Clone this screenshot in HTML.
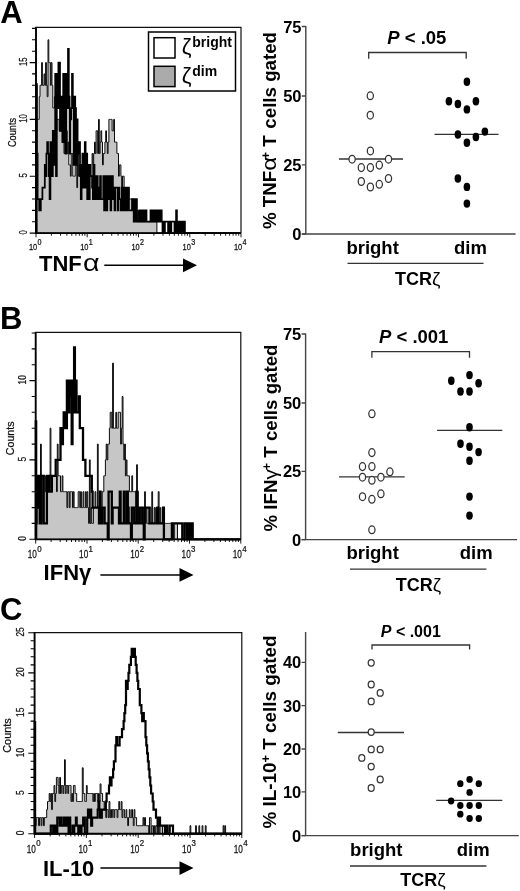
<!DOCTYPE html>
<html lang="en"><head><meta charset="utf-8"><title>Figure</title>
<style>html,body{margin:0;padding:0;background:#fff;}body{width:520px;height:891px;overflow:hidden;font-family:"Liberation Sans", sans-serif;}svg{display:block;position:absolute;left:0;top:0;will-change:transform;}text{font-family:"Liberation Sans", sans-serif;}.b{font-weight:bold;fill:#000;}.tk{font-size:10px;fill:#111;stroke:#111;stroke-width:0.25px;}</style></head><body>
<svg width="520" height="891" viewBox="0 0 520 891">
<rect x="0" y="0" width="520" height="891" fill="#fff"/>
<path d="M36.0 233.1V119.4H36.8H37.6H38.4H39.2V96.7H40.0V85.3H40.8H41.6V62.6H42.4V85.3H43.2H44.0V73.9H44.8V85.3H45.6V62.6H46.4V85.3H47.2V96.7H48.0V39.8H48.8V62.6H49.6H50.4V85.3H51.2V62.6H52.0V85.3H52.8V108.0H53.6H54.4V96.7H55.2H56.0V130.8H56.8V119.4H57.6H58.4H59.2V130.8H60.0H60.8H61.6H62.4V142.1H63.2H64.0V153.5H64.8V130.8H65.6V142.1H66.4V130.8H67.2V153.5H68.0V142.1H68.8V164.9H69.6H70.4V176.2H71.2V153.5H72.0H72.8V176.2H73.6H74.4H75.2V153.5H76.0V164.9H76.8V187.6H77.6V153.5H78.4V176.2H79.2V164.9H80.0H80.8V176.2H81.6V187.6H82.4V164.9H83.2H84.0V176.2H84.8V187.6H85.6V164.9H86.4H87.2H88.1V187.6H88.9V176.2H89.7V164.9H90.5V176.2H91.3H92.1V153.5H92.9V164.9H93.7V153.5H94.5V142.1H95.3V153.5H96.1V130.8H96.9H97.7V153.5H98.5V119.4H99.3V153.5H100.1V142.1H100.9V130.8H101.7V142.1H102.5V164.9H103.3V153.5H104.1H104.9V142.1H105.7V130.8H106.5V142.1H107.3V153.5H108.1V142.1H108.9V119.4H109.7H110.5H111.3H112.1V130.8H112.9H113.7V119.4H114.5V142.1H115.3H116.1H116.9V153.5H117.7H118.5V176.2H119.3V164.9H120.1H120.9V176.2H121.7V187.6H122.5V176.2H123.3H124.1V199.0H124.9V187.6H125.7H126.5V199.0H127.3V187.6H128.1H128.9V199.0H129.7H130.5H131.3H132.1V210.4H132.9V199.0H133.7V210.4H134.5H135.3H136.1H136.9V221.7H137.7V210.4H138.5V221.7H139.3H140.1H140.9H141.7H142.5H143.3H144.1H144.9H145.7H146.5H147.3H148.1H148.9H149.7H150.5H151.3H152.1H152.9H153.7H154.5H155.3H156.1H156.9V233.1H157.7H158.5H159.3H160.1H160.9H161.7H162.5H163.3H164.1H164.9H165.7H166.5H167.3H168.1H168.9H169.7H170.5H171.3H172.1H172.9H173.7H174.5H175.3H176.1H176.9H177.7H178.5H179.3H180.1H180.9H181.7H182.5H183.3H184.1H184.9H185.7H186.5H187.3H188.1H188.9H189.8H190.6H191.4H192.2H193.0H193.8H194.6H195.4H196.2H197.0H197.8H198.6H199.4H200.2H201.0H201.8H202.6H203.4H204.2H205.0H205.8H206.6H207.4H208.2H209.0H209.8H210.6H211.4H212.2H213.0H213.8H214.6H215.4H216.2H217.0H217.8H218.6H219.4H220.2H221.0H221.8H222.6H223.4H224.2H225.0H225.8H226.6H227.4H228.2H229.0H229.8H230.6H231.4H232.2H233.0H233.8H234.6H235.4H236.2H237.0H237.8H238.6H239.4H240.2H241.0V233.1Z" fill="#c6c6c6" stroke="#0c0c0c" stroke-width="1.00" stroke-linejoin="miter"/>
<path d="M36.0 85.3H36.8V153.5H37.6V199.0H38.4H39.2V210.4H40.0H40.8V199.0H41.6H42.4V187.6H43.2H44.0H44.8V164.9H45.6V176.2H46.4V153.5H47.2V142.1H48.0V153.5H48.8V176.2H49.6V199.0H50.4V142.1H51.2H52.0V176.2H52.8V130.8H53.6V164.9H54.4V153.5H55.2V73.9H56.0V176.2H56.8V73.9H57.6V108.0H58.4V62.6H59.2H60.0V130.8H60.8H61.6V96.7H62.4V142.1H63.2V73.9H64.0V142.1H64.8V73.9H65.6V153.5H66.4V73.9H67.2V108.0H68.0V48.9H68.8V96.7H69.6V153.5H70.4V119.4H71.2V108.0H72.0V73.9H72.8V96.7H73.6V164.9H74.4V96.7H75.2V108.0H76.0V164.9H76.8V119.4H77.6V153.5H78.4V142.1H79.2H80.0V176.2H80.8V199.0H81.6V164.9H82.4V153.5H83.2V187.6H84.0V176.2H84.8V142.1H85.6V187.6H86.4V153.5H87.2V199.0H88.1V164.9H88.9V199.0H89.7V164.9H90.5V176.2H91.3H92.1V187.6H92.9V199.0H93.7V164.9H94.5V199.0H95.3H96.1V176.2H96.9H97.7V199.0H98.5V187.6H99.3V199.0H100.1V176.2H100.9V199.0H101.7H102.5H103.3V176.2H104.1V210.4H104.9V176.2H105.7H106.5V210.4H107.3V176.2H108.1V199.0H108.9H109.7V176.2H110.5V210.4H111.3V199.0H112.1V176.2H112.9V199.0H113.7V187.6H114.5V210.4H115.3V187.6H116.1H116.9H117.7V210.4H118.5V187.6H119.3V199.0H120.1H120.9V210.4H121.7V187.6H122.5V210.4H123.3V187.6H124.1V210.4H124.9H125.7V187.6H126.5V199.0H127.3V210.4H128.1V187.6H128.9V210.4H129.7H130.5H131.3H132.1V199.0H132.9V210.4H133.7V221.7H134.5V199.0H135.3V221.7H136.1V199.0H136.9V221.7H137.7H138.5H139.3V210.4H140.1H140.9V221.7H141.7V210.4H142.5H143.3V221.7H144.1V210.4H144.9V221.7H145.7V210.4H146.5V221.7H147.3H148.1H148.9H149.7H150.5V210.4H151.3H152.1V221.7H152.9V210.4H153.7H154.5V221.7H155.3V210.4H156.1V221.7H156.9V210.4H157.7V221.7H158.5H159.3V210.4H160.1V221.7H160.9V210.4H161.7V221.7H162.5V233.1H163.3V221.7H164.1V233.1H164.9V221.7H165.7H166.5H167.3H168.1V233.1H168.9H169.7V221.7H170.5V233.1H171.3V221.7H172.1H172.9H173.7H174.5V233.1H175.3H176.1V210.4H176.9V233.1H177.7V221.7H178.5V233.1H179.3V221.7H180.1H180.9V233.1H181.7V221.7H182.5H183.3V233.1H184.1V221.7H184.9V233.1H185.7H186.5H187.3H188.1H188.9H189.8H190.6H191.4H192.2H193.0H193.8H194.6H195.4H196.2H197.0H197.8H198.6H199.4H200.2H201.0H201.8H202.6H203.4H204.2H205.0H205.8H206.6H207.4H208.2H209.0H209.8H210.6H211.4H212.2H213.0H213.8H214.6H215.4H216.2H217.0H217.8H218.6H219.4H220.2H221.0H221.8H222.6H223.4H224.2H225.0H225.8H226.6H227.4H228.2H229.0H229.8H230.6H231.4H232.2H233.0H233.8H234.6H235.4H236.2H237.0H237.8H238.6H239.4H240.2H241.0" fill="none" stroke="#000" stroke-width="1.75" stroke-linejoin="miter"/>
<path d="M36.0 27.3V233.1H241.0" fill="none" stroke="#000" stroke-width="1.9"/>
<path d="M35.1 27.3H241.0V233.1" fill="none" stroke="#111" stroke-width="1.2"/>
<path d="M36.3 83.0V233.1" fill="none" stroke="#000" stroke-width="2.6"/>
<path d="M29.7 233.1H36.0M32.0 221.7H36.0M32.0 210.4H36.0M32.0 199.0H36.0M32.0 187.6H36.0M29.7 176.2H36.0M32.0 164.9H36.0M32.0 153.5H36.0M32.0 142.1H36.0M32.0 130.8H36.0M29.7 119.4H36.0M32.0 108.0H36.0M32.0 96.7H36.0M32.0 85.3H36.0M32.0 73.9H36.0M29.7 62.6H36.0M32.0 51.2H36.0M32.0 39.8H36.0M32.0 28.4H36.0" stroke="#000" stroke-width="1.1" fill="none"/>
<text class="tk" style="font-size:10.4px" transform="translate(26.6 232.3) rotate(-90) scale(0.74 1)" text-anchor="middle">0</text>
<text class="tk" style="font-size:10.4px" transform="translate(26.6 175.4) rotate(-90) scale(0.74 1)" text-anchor="middle">5</text>
<text class="tk" style="font-size:10.4px" transform="translate(26.6 118.6) rotate(-90) scale(0.74 1)" text-anchor="middle">10</text>
<text class="tk" style="font-size:10.4px" transform="translate(26.6 61.8) rotate(-90) scale(0.74 1)" text-anchor="middle">15</text>
<path d="M36.0 233.1V237.3M51.4 233.1V235.7M60.5 233.1V235.7M66.9 233.1V235.7M71.8 233.1V235.7M75.9 233.1V235.7M79.3 233.1V235.7M82.3 233.1V235.7M84.9 233.1V235.7M87.2 233.1V237.3M102.7 233.1V235.7M111.7 233.1V235.7M118.1 233.1V235.7M123.1 233.1V235.7M127.1 233.1V235.7M130.6 233.1V235.7M133.5 233.1V235.7M136.2 233.1V235.7M138.5 233.1V237.3M153.9 233.1V235.7M163.0 233.1V235.7M169.4 233.1V235.7M174.3 233.1V235.7M178.4 233.1V235.7M181.8 233.1V235.7M184.8 233.1V235.7M187.4 233.1V235.7M189.8 233.1V237.3M205.2 233.1V235.7M214.2 233.1V235.7M220.6 233.1V235.7M225.6 233.1V235.7M229.6 233.1V235.7M233.1 233.1V235.7M236.0 233.1V235.7M238.7 233.1V235.7M241.0 233.1V237.3" stroke="#000" stroke-width="0.9" fill="none"/>
<text class="tk" style="font-size:9.8px" transform="translate(37.2 250.2) scale(0.76 1)" text-anchor="end">10</text>
<text class="tk" style="font-size:8.4px" transform="translate(37.6 244.5) scale(0.85 1)">0</text>
<text class="tk" style="font-size:9.8px" transform="translate(88.5 250.2) scale(0.76 1)" text-anchor="end">10</text>
<text class="tk" style="font-size:8.4px" transform="translate(88.8 244.5) scale(0.85 1)">1</text>
<text class="tk" style="font-size:9.8px" transform="translate(139.7 250.2) scale(0.76 1)" text-anchor="end">10</text>
<text class="tk" style="font-size:8.4px" transform="translate(140.1 244.5) scale(0.85 1)">2</text>
<text class="tk" style="font-size:9.8px" transform="translate(190.9 250.2) scale(0.76 1)" text-anchor="end">10</text>
<text class="tk" style="font-size:8.4px" transform="translate(191.3 244.5) scale(0.85 1)">3</text>
<text class="tk" style="font-size:9.8px" transform="translate(242.2 250.2) scale(0.76 1)" text-anchor="end">10</text>
<text class="tk" style="font-size:8.4px" transform="translate(242.6 244.5) scale(0.85 1)">4</text>
<text class="tk" style="font-size:10.0px" transform="translate(16.2 132.5) rotate(-90)" text-anchor="middle" textLength="29.0" lengthAdjust="spacingAndGlyphs">Counts</text>
<text class="b" x="0.3" y="22.8" font-size="31">A</text>
<text class="b" x="39.0" y="271.3" font-size="22">TNF</text><text transform="translate(83.0 271.3) scale(1.22 1)" font-size="23.5" fill="#000">α</text>
<path d="M104.3 265.3H184.0" stroke="#000" stroke-width="1.5" fill="none"/>
<path d="M183.0 258.4L197.0 265.3L183.0 272.2Z" fill="#000"/>
<rect x="148.5" y="32" width="87" height="59" fill="#fff" stroke="#000" stroke-width="1.5"/>
<rect x="154" y="37.7" width="21" height="20.3" fill="#fff" stroke="#000" stroke-width="1.5"/>
<rect x="154" y="66.3" width="21" height="20.3" fill="#ababab" stroke="#000" stroke-width="1.5"/>
<text x="181.8" y="54.3" font-size="22" fill="#000">ζ</text>
<text x="181.8" y="82.8" font-size="22" fill="#000">ζ</text>
<text class="b" x="192.3" y="47" font-size="14">bright</text>
<text class="b" x="192.3" y="75.5" font-size="14">dim</text>
<path d="M35.7 539.3V491.7H36.5H37.3H38.1H38.9H39.7H40.5V444.1H41.3V491.7H42.1H42.9H43.7V475.8H44.5H45.3V491.7H46.1V475.8H46.9H47.7H48.5H49.3H50.1V428.2H50.9V475.8H51.7V491.7H52.5V475.8H53.3H54.1H54.9H55.7H56.5V491.7H57.3V444.1H58.1V475.8H58.9H59.7H60.5V491.7H61.3H62.1V475.8H62.9V491.7H63.7H64.5H65.3H66.1H66.9V507.6H67.7V491.7H68.5H69.3V507.6H70.1V491.7H70.9H71.7H72.5V507.6H73.3V491.7H74.1V507.6H74.9H75.7H76.5H77.4H78.2V491.7H79.0H79.8V507.6H80.6V491.7H81.4V507.6H82.2H83.0V491.7H83.8V507.6H84.6H85.4V491.7H86.2V507.6H87.0V491.7H87.8V507.6H88.6V523.4H89.4V459.9H90.2V523.4H91.0V507.6H91.8V523.4H92.6H93.4V507.6H94.2H95.0V491.7H95.8V507.6H96.6H97.4V444.1H98.2V507.6H99.0H99.8V491.7H100.6V507.6H101.4H102.2V491.7H103.0H103.8V475.8H104.6H105.4V459.9H106.2V444.1H107.0V459.9H107.8V444.1H108.6H109.4V428.2H110.2V412.3H111.0H111.8V428.2H112.6V363.1H113.4V428.2H114.2H115.0H115.8V412.3H116.6V428.2H117.4H118.2V412.3H119.0H119.8H120.6V444.1H121.4V428.2H122.2V396.5H123.0V444.1H123.8V459.9H124.6V444.1H125.4V475.8H126.2V459.9H127.0V475.8H127.8H128.6H129.4V491.7H130.2H131.0H131.8V475.8H132.6V491.7H133.4H134.2H135.0H135.8V507.6H136.6V464.7H137.4V491.7H138.2V523.4H139.0V507.6H139.8V523.4H140.6H141.4H142.2H143.0V507.6H143.8H144.6V491.7H145.4V523.4H146.2V507.6H147.0V523.4H147.8H148.6H149.4V507.6H150.2H151.0V523.4H151.8V491.7H152.6V523.4H153.4H154.2V507.6H155.0V523.4H155.8V507.6H156.6V523.4H157.4V507.6H158.2V491.7H159.1V523.4H159.9V507.6H160.7V523.4H161.5H162.3V507.6H163.1V523.4H163.9H164.7H165.5H166.3H167.1H167.9H168.7H169.5H170.3H171.1H171.9H172.7H173.5V539.3H174.3V523.4H175.1H175.9H176.7H177.5V539.3H178.3H179.1H179.9H180.7H181.5H182.3H183.1H183.9H184.7H185.5H186.3H187.1H187.9H188.7H189.5H190.3H191.1H191.9H192.7H193.5H194.3H195.1H195.9H196.7H197.5H198.3H199.1H199.9H200.7H201.5H202.3H203.1H203.9H204.7H205.5H206.3H207.1H207.9H208.7H209.5H210.3H211.1H211.9H212.7H213.5H214.3H215.1H215.9H216.7H217.5H218.3H219.1H219.9H220.7H221.5H222.3H223.1H223.9H224.7H225.5H226.3H227.1H227.9H228.7H229.5H230.3H231.1H231.9H232.7H233.5H234.3H235.1H235.9H236.7H237.5H238.3H239.1H239.9H240.8V539.3Z" fill="#c6c6c6" stroke="#0c0c0c" stroke-width="1.00" stroke-linejoin="miter"/>
<path d="M35.7 523.4H36.5V475.8H37.3V507.6H38.1V475.8H38.9H39.7V523.4H40.5H41.3V475.8H42.1H42.9H43.7V523.4H44.5H45.3H46.1H46.9V475.8H47.7V491.7H48.5V475.8H49.3V491.7H50.1H50.9H51.7V475.8H52.5H53.3H54.1H54.9H55.7V459.9H56.5H57.3H58.1H58.9H59.7H60.5V428.2H61.3H62.1V444.1H62.9V428.2H63.7V412.3H64.5H65.3V428.2H66.1H66.9V380.6H67.7H68.5V412.3H69.3V380.6H70.1V396.5H70.9V380.6H71.7V444.1H72.5V412.3H73.3V380.6H74.1V347.3H74.9V412.3H75.7V380.6H76.5V412.3H77.4H78.2H79.0V396.5H79.8V428.2H80.6H81.4H82.2H83.0V459.9H83.8H84.6H85.4V475.8H86.2H87.0H87.8H88.6H89.4H90.2H91.0H91.8V491.7H92.6V507.6H93.4H94.2H95.0H95.8H96.6H97.4H98.2H99.0V523.4H99.8V491.7H100.6V523.4H101.4H102.2V507.6H103.0H103.8H104.6V523.4H105.4H106.2H107.0H107.8V539.3H108.6V491.7H109.4H110.2H111.0H111.8V523.4H112.6V507.6H113.4H114.2H115.0H115.8H116.6H117.4H118.2H119.0V523.4H119.8V491.7H120.6V523.4H121.4H122.2H123.0H123.8V491.7H124.6V523.4H125.4H126.2H127.0V491.7H127.8V507.6H128.6V523.4H129.4H130.2H131.0V539.3H131.8V507.6H132.6H133.4H134.2V523.4H135.0H135.8H136.6V491.7H137.4V523.4H138.2H139.0H139.8V507.6H140.6H141.4H142.2V523.4H143.0H143.8V539.3H144.6V507.6H145.4H146.2H147.0H147.8H148.6H149.4V523.4H150.2H151.0H151.8H152.6H153.4H154.2H155.0H155.8H156.6H157.4V507.6H158.2V523.4H159.1H159.9H160.7H161.5H162.3H163.1V507.6H163.9V539.3H164.7H165.5H166.3H167.1H167.9H168.7H169.5H170.3H171.1H171.9V523.4H172.7H173.5H174.3H175.1H175.9H176.7H177.5H178.3H179.1H179.9H180.7H181.5H182.3V539.3H183.1H183.9H184.7V523.4H185.5H186.3H187.1V539.3H187.9V523.4H188.7H189.5V539.3H190.3H191.1V523.4H191.9H192.7V539.3H193.5H194.3H195.1H195.9H196.7H197.5H198.3H199.1H199.9H200.7H201.5H202.3H203.1H203.9H204.7H205.5H206.3H207.1H207.9H208.7H209.5H210.3H211.1H211.9H212.7H213.5H214.3H215.1H215.9H216.7H217.5H218.3H219.1H219.9H220.7H221.5H222.3H223.1H223.9H224.7H225.5H226.3H227.1H227.9H228.7H229.5H230.3H231.1H231.9H232.7H233.5H234.3H235.1H235.9H236.7H237.5H238.3H239.1H239.9H240.8" fill="none" stroke="#000" stroke-width="2.30" stroke-linejoin="miter"/>
<path d="M35.7 332.3V539.4H240.8" fill="none" stroke="#000" stroke-width="1.9"/>
<path d="M34.8 332.3H240.8V539.4" fill="none" stroke="#111" stroke-width="1.2"/>
<path d="M36.0 420.3V539.4" fill="none" stroke="#000" stroke-width="2.6"/>
<path d="M29.4 539.3H35.7M31.7 523.4H35.7M31.7 507.6H35.7M31.7 491.7H35.7M31.7 475.8H35.7M29.4 459.9H35.7M31.7 444.1H35.7M31.7 428.2H35.7M31.7 412.3H35.7M31.7 396.5H35.7M29.4 380.6H35.7M31.7 364.7H35.7M31.7 348.9H35.7M31.7 333.0H35.7" stroke="#000" stroke-width="1.1" fill="none"/>
<text class="tk" style="font-size:11.4px" transform="translate(25.6 538.5) rotate(-90) scale(0.74 1)" text-anchor="middle">0</text>
<text class="tk" style="font-size:11.4px" transform="translate(25.6 459.1) rotate(-90) scale(0.74 1)" text-anchor="middle">5</text>
<text class="tk" style="font-size:11.4px" transform="translate(25.6 379.8) rotate(-90) scale(0.74 1)" text-anchor="middle">10</text>
<path d="M35.7 539.4V543.6M51.1 539.4V542.0M60.2 539.4V542.0M66.6 539.4V542.0M71.5 539.4V542.0M75.6 539.4V542.0M79.0 539.4V542.0M82.0 539.4V542.0M84.6 539.4V542.0M87.0 539.4V543.6M102.4 539.4V542.0M111.4 539.4V542.0M117.8 539.4V542.0M122.8 539.4V542.0M126.9 539.4V542.0M130.3 539.4V542.0M133.3 539.4V542.0M135.9 539.4V542.0M138.2 539.4V543.6M153.7 539.4V542.0M162.7 539.4V542.0M169.1 539.4V542.0M174.1 539.4V542.0M178.1 539.4V542.0M181.5 539.4V542.0M184.5 539.4V542.0M187.1 539.4V542.0M189.5 539.4V543.6M204.9 539.4V542.0M213.9 539.4V542.0M220.4 539.4V542.0M225.3 539.4V542.0M229.4 539.4V542.0M232.8 539.4V542.0M235.8 539.4V542.0M238.4 539.4V542.0M240.8 539.4V543.6" stroke="#000" stroke-width="0.9" fill="none"/>
<text class="tk" style="font-size:10.8px" transform="translate(36.9 558.3) scale(0.76 1)" text-anchor="end">10</text>
<text class="tk" style="font-size:9.3px" transform="translate(37.3 551.9) scale(0.85 1)">0</text>
<text class="tk" style="font-size:10.8px" transform="translate(88.2 558.3) scale(0.76 1)" text-anchor="end">10</text>
<text class="tk" style="font-size:9.3px" transform="translate(88.6 551.9) scale(0.85 1)">1</text>
<text class="tk" style="font-size:10.8px" transform="translate(139.4 558.3) scale(0.76 1)" text-anchor="end">10</text>
<text class="tk" style="font-size:9.3px" transform="translate(139.8 551.9) scale(0.85 1)">2</text>
<text class="tk" style="font-size:10.8px" transform="translate(190.7 558.3) scale(0.76 1)" text-anchor="end">10</text>
<text class="tk" style="font-size:9.3px" transform="translate(191.1 551.9) scale(0.85 1)">3</text>
<text class="tk" style="font-size:10.8px" transform="translate(241.9 558.3) scale(0.76 1)" text-anchor="end">10</text>
<text class="tk" style="font-size:9.3px" transform="translate(242.3 551.9) scale(0.85 1)">4</text>
<text class="tk" style="font-size:10.6px" transform="translate(13.9 438.3) rotate(-90)" text-anchor="middle" textLength="33.7" lengthAdjust="spacingAndGlyphs">Counts</text>
<text class="b" x="0.0" y="328.8" font-size="31">B</text>
<text class="b" x="43.6" y="580.2" font-size="22">IFNγ</text>
<path d="M100.4 574.9H180.5" stroke="#000" stroke-width="1.5" fill="none"/>
<path d="M179.5 568.0L193.5 574.9L179.5 581.8Z" fill="#000"/>
<path d="M34.6 833.7V825.7H35.4H36.2V817.6H37.0H37.8H38.6V825.7H39.5V817.6H40.3H41.1V825.7H41.9V817.6H42.7H43.5V825.7H44.3V817.6H45.1H45.9H46.7V809.6H47.5V801.5H48.4H49.2V793.5H50.0V801.5H50.8V793.5H51.6V809.6H52.4V793.5H53.2H54.0V785.5H54.8V801.5H55.6V793.5H56.4V777.4H57.3H58.1V785.5H58.9V793.5H59.7V777.4H60.5V793.5H61.3V785.5H62.1H62.9V793.5H63.7V785.5H64.5V759.7H65.3V793.5H66.2V785.5H67.0H67.8V793.5H68.6V785.5H69.4H70.2H71.0V801.5H71.8V793.5H72.6V801.5H73.4V785.5H74.2H75.1V793.5H75.9H76.7V801.5H77.5H78.3H79.1H79.9H80.7H81.5H82.3V767.8H83.2V793.5H84.0H84.8V801.5H85.6H86.4V785.5H87.2V793.5H88.0H88.8H89.6H90.4H91.2H92.1H92.9V801.5H93.7V793.5H94.5V801.5H95.3V793.5H96.1H96.9H97.7V801.5H98.5V793.5H99.3V801.5H100.1V783.9H101.0V793.5H101.8H102.6V801.5H103.4H104.2V809.6H105.0V801.5H105.8V817.6H106.6V809.6H107.4H108.2V817.6H109.0V801.5H109.9V817.6H110.7V809.6H111.5V817.6H112.3V809.6H113.1H113.9V817.6H114.7V809.6H115.5H116.3H117.1V817.6H117.9V809.6H118.8V801.5H119.6V809.6H120.4H121.2V801.5H122.0V817.6H122.8V809.6H123.6H124.4V817.6H125.2H126.0V809.6H126.8V817.6H127.7V825.7H128.5V817.6H129.3V809.6H130.1V817.6H130.9H131.7V809.6H132.5V817.6H133.3V825.7H134.1V809.6H134.9V817.6H135.7H136.6V825.7H137.4H138.2H139.0H139.8H140.6H141.4H142.2H143.0V817.6H143.8V825.7H144.6V817.6H145.5V825.7H146.3H147.1H147.9H148.7V833.7H149.5V817.6H150.3H151.1V833.7H151.9V825.7H152.7H153.5V833.7H154.4V825.7H155.2V833.7H156.0V825.7H156.8H157.6V833.7H158.4V825.7H159.2V833.7H160.0V825.7H160.8H161.6H162.5V833.7H163.3H164.1H164.9V825.7H165.7H166.5V833.7H167.3H168.1H168.9H169.7H170.5H171.4H172.2H173.0H173.8H174.6H175.4H176.2H177.0H177.8H178.6H179.4H180.3H181.1H181.9H182.7H183.5H184.3H185.1H185.9H186.7H187.5H188.3H189.2H190.0V825.7H190.8V833.7H191.6H192.4H193.2H194.0H194.8H195.6V825.7H196.4V833.7H197.2H198.1H198.9V825.7H199.7V833.7H200.5H201.3H202.1V825.7H202.9V833.7H203.7H204.5H205.3V825.7H206.1V833.7H207.0H207.8H208.6H209.4H210.2H211.0H211.8H212.6H213.4H214.2H215.0H215.9H216.7H217.5H218.3H219.1H219.9H220.7H221.5H222.3H223.1V825.7H223.9V833.7H224.8V825.7H225.6V833.7H226.4H227.2H228.0H228.8H229.6H230.4H231.2H232.0H232.8H233.7H234.5H235.3H236.1H236.9H237.7H238.5H239.3H240.1H240.9H241.8V833.7Z" fill="#c6c6c6" stroke="#0c0c0c" stroke-width="1.00" stroke-linejoin="miter"/>
<path d="M34.6 833.7H35.4H36.2H37.0H37.8H38.6H39.5H40.3H41.1H41.9H42.7H43.5H44.3H45.1H45.9H46.7H47.5H48.4H49.2H50.0H50.8V825.7H51.6H52.4H53.2V833.7H54.0H54.8V825.7H55.6H56.4V833.7H57.3V817.6H58.1H58.9H59.7V825.7H60.5V817.6H61.3V825.7H62.1H62.9H63.7V817.6H64.5H65.3V825.7H66.2H67.0V817.6H67.8H68.6V833.7H69.4V817.6H70.2V833.7H71.0H71.8H72.6V825.7H73.4V833.7H74.2V825.7H75.1H75.9V817.6H76.7V825.7H77.5H78.3V833.7H79.1V825.7H79.9H80.7V833.7H81.5V825.7H82.3H83.2V817.6H84.0H84.8V833.7H85.6H86.4H87.2V817.6H88.0V809.6H88.8V817.6H89.6H90.4V809.6H91.2V825.7H92.1V817.6H92.9H93.7H94.5H95.3H96.1H96.9H97.7V809.6H98.5V801.5H99.3V809.6H100.1V817.6H101.0H101.8V809.6H102.6H103.4H104.2H105.0H105.8V801.5H106.6V793.5H107.4H108.2H109.0V785.5H109.9V777.4H110.7V785.5H111.5V777.4H112.3H113.1V769.4H113.9V761.3H114.7H115.5V745.3H116.3V737.2H117.1V745.3H117.9H118.8H119.6V737.2H120.4H121.2H122.0V729.2H122.8H123.6V721.1H124.4V713.1H125.2V705.1H126.0V680.9H126.8V689.0H127.7V680.9H128.5V672.9H129.3V664.9H130.1H130.9V656.8H131.7V648.8H132.5V656.8H133.3H134.1V648.8H134.9V656.8H135.7V664.9H136.6V672.9H137.4V680.9H138.2V689.0H139.0H139.8V705.1H140.6H141.4V713.1H142.2V721.1H143.0V713.1H143.8V721.1H144.6H145.5V737.2H146.3V745.3H147.1V753.3H147.9V761.3H148.7V769.4H149.5V777.4H150.3V785.5H151.1V793.5H151.9H152.7V801.5H153.5V809.6H154.4H155.2H156.0V817.6H156.8H157.6V825.7H158.4H159.2V817.6H160.0V825.7H160.8H161.6H162.5H163.3H164.1H164.9V833.7H165.7V825.7H166.5H167.3V833.7H168.1H168.9H169.7V825.7H170.5H171.4H172.2H173.0V833.7H173.8H174.6H175.4H176.2H177.0H177.8H178.6H179.4H180.3H181.1H181.9H182.7H183.5H184.3H185.1H185.9H186.7H187.5H188.3H189.2H190.0H190.8H191.6H192.4H193.2H194.0H194.8H195.6H196.4H197.2H198.1H198.9H199.7H200.5H201.3H202.1H202.9H203.7H204.5H205.3H206.1H207.0H207.8H208.6H209.4H210.2H211.0H211.8H212.6H213.4H214.2H215.0H215.9H216.7H217.5H218.3H219.1H219.9H220.7H221.5H222.3H223.1H223.9H224.8H225.6H226.4H227.2H228.0H228.8H229.6H230.4H231.2H232.0H232.8H233.7H234.5H235.3H236.1H236.9H237.7H238.5H239.3H240.1H240.9H241.8" fill="none" stroke="#000" stroke-width="2.20" stroke-linejoin="miter"/>
<path d="M34.6 632.6V833.8H241.8" fill="none" stroke="#000" stroke-width="1.9"/>
<path d="M33.7 632.6H241.8V833.8" fill="none" stroke="#111" stroke-width="1.2"/>
<path d="M34.9 721.1V833.8" fill="none" stroke="#000" stroke-width="2.6"/>
<path d="M28.3 833.7H34.6M30.6 825.7H34.6M30.6 817.6H34.6M30.6 809.6H34.6M30.6 801.5H34.6M28.3 793.5H34.6M30.6 785.5H34.6M30.6 777.4H34.6M30.6 769.4H34.6M30.6 761.3H34.6M28.3 753.3H34.6M30.6 745.3H34.6M30.6 737.2H34.6M30.6 729.2H34.6M30.6 721.1H34.6M28.3 713.1H34.6M30.6 705.1H34.6M30.6 697.0H34.6M30.6 689.0H34.6M30.6 680.9H34.6M28.3 672.9H34.6M30.6 664.9H34.6M30.6 656.8H34.6M30.6 648.8H34.6M30.6 640.7H34.6M28.3 632.7H34.6" stroke="#000" stroke-width="1.1" fill="none"/>
<text class="tk" style="font-size:11.4px" transform="translate(24.2 832.9) rotate(-90) scale(0.74 1)" text-anchor="middle">0</text>
<text class="tk" style="font-size:11.4px" transform="translate(24.2 792.7) rotate(-90) scale(0.74 1)" text-anchor="middle">5</text>
<text class="tk" style="font-size:11.4px" transform="translate(24.2 752.5) rotate(-90) scale(0.74 1)" text-anchor="middle">10</text>
<text class="tk" style="font-size:11.4px" transform="translate(24.2 712.3) rotate(-90) scale(0.74 1)" text-anchor="middle">15</text>
<text class="tk" style="font-size:11.4px" transform="translate(24.2 672.1) rotate(-90) scale(0.74 1)" text-anchor="middle">20</text>
<text class="tk" style="font-size:11.4px" transform="translate(24.2 631.9) rotate(-90) scale(0.74 1)" text-anchor="middle">25</text>
<path d="M34.6 833.8V838.0M50.2 833.8V836.4M59.3 833.8V836.4M65.8 833.8V836.4M70.8 833.8V836.4M74.9 833.8V836.4M78.4 833.8V836.4M81.4 833.8V836.4M84.0 833.8V836.4M86.4 833.8V838.0M102.0 833.8V836.4M111.1 833.8V836.4M117.6 833.8V836.4M122.6 833.8V836.4M126.7 833.8V836.4M130.2 833.8V836.4M133.2 833.8V836.4M135.8 833.8V836.4M138.2 833.8V838.0M153.8 833.8V836.4M162.9 833.8V836.4M169.4 833.8V836.4M174.4 833.8V836.4M178.5 833.8V836.4M181.9 833.8V836.4M184.9 833.8V836.4M187.6 833.8V836.4M190.0 833.8V838.0M205.6 833.8V836.4M214.7 833.8V836.4M221.1 833.8V836.4M226.2 833.8V836.4M230.3 833.8V836.4M233.7 833.8V836.4M236.7 833.8V836.4M239.4 833.8V836.4M241.8 833.8V838.0" stroke="#000" stroke-width="0.9" fill="none"/>
<text class="tk" style="font-size:10.8px" transform="translate(35.8 852.7) scale(0.76 1)" text-anchor="end">10</text>
<text class="tk" style="font-size:9.3px" transform="translate(36.2 846.3) scale(0.85 1)">0</text>
<text class="tk" style="font-size:10.8px" transform="translate(87.6 852.7) scale(0.76 1)" text-anchor="end">10</text>
<text class="tk" style="font-size:9.3px" transform="translate(88.0 846.3) scale(0.85 1)">1</text>
<text class="tk" style="font-size:10.8px" transform="translate(139.4 852.7) scale(0.76 1)" text-anchor="end">10</text>
<text class="tk" style="font-size:9.3px" transform="translate(139.8 846.3) scale(0.85 1)">2</text>
<text class="tk" style="font-size:10.8px" transform="translate(191.2 852.7) scale(0.76 1)" text-anchor="end">10</text>
<text class="tk" style="font-size:9.3px" transform="translate(191.6 846.3) scale(0.85 1)">3</text>
<text class="tk" style="font-size:10.8px" transform="translate(242.9 852.7) scale(0.76 1)" text-anchor="end">10</text>
<text class="tk" style="font-size:9.3px" transform="translate(243.3 846.3) scale(0.85 1)">4</text>
<text class="tk" style="font-size:10.9px" transform="translate(11.2 735.5) rotate(-90)" text-anchor="middle" textLength="34.5" lengthAdjust="spacingAndGlyphs">Counts</text>
<text class="b" x="0.0" y="620.0" font-size="31">C</text>
<text class="b" x="43.0" y="875.6" font-size="22">IL-10</text>
<path d="M100.4 868.1H180.5" stroke="#000" stroke-width="1.5" fill="none"/>
<path d="M179.5 861.2L193.5 868.1L179.5 875.0Z" fill="#000"/>
<path d="M305.8 26.0V234.0H515.6" fill="none" stroke="#444" stroke-width="1.4"/>
<path d="M301.8 234.0H305.8" fill="none" stroke="#444" stroke-width="1.3"/>
<text class="b" x="301.5" y="32.5" font-size="16.5" text-anchor="end">75</text>
<text class="b" x="301.5" y="102.0" font-size="16.5" text-anchor="end">50</text>
<text class="b" x="301.5" y="170.9" font-size="16.5" text-anchor="end">25</text>
<text class="b" x="301.5" y="240.0" font-size="16.5" text-anchor="end">0</text>
<path d="M301.8 26.5H305.8M301.8 96.0H305.8M301.8 164.9H305.8M301.8 234.0H305.8" fill="none" stroke="#444" stroke-width="1.3"/>
<text transform="translate(276.30 229.00) rotate(-90) scale(1.011 1)" font-size="18.5" style="font-weight:bold" fill="#000">%</text>
<text transform="translate(276.30 207.18) rotate(-90) scale(1.011 1)" font-size="18.5" style="font-weight:bold" fill="#000">TNF</text>
<text transform="translate(276.30 170.84) rotate(-90) scale(1.213 1)" font-size="20.0" style="font-weight:normal" fill="#000">α</text>
<text transform="translate(269.80 159.34) rotate(-90) scale(1.011 1)" font-size="12.5" style="font-weight:bold" fill="#000">+</text>
<text transform="translate(276.30 146.77) rotate(-90) scale(1.011 1)" font-size="18.5" style="font-weight:bold" fill="#000">T</text>
<text transform="translate(276.30 128.64) rotate(-90) scale(1.011 1)" font-size="18.5" style="font-weight:bold" fill="#000">cells</text>
<text transform="translate(276.30 81.86) rotate(-90) scale(1.011 1)" font-size="18.5" style="font-weight:bold" fill="#000">gated</text>
<text class="b" x="416.8" y="44.4" font-size="18.5" text-anchor="middle"><tspan font-style="italic">P</tspan> &lt; .05</text>
<path d="M368.7 58.8V52.5H466.2V58.8" fill="none" stroke="#333" stroke-width="1.3"/>
<path d="M339.0 159.0H403.0" stroke="#333" stroke-width="1.3" fill="none"/>
<path d="M434.5 134.4H498.5" stroke="#333" stroke-width="1.3" fill="none"/>
<ellipse cx="370.3" cy="95.8" rx="3.10" ry="3.90" fill="#fff" stroke="#333" stroke-width="1.25"/>
<ellipse cx="370.3" cy="115.2" rx="3.10" ry="3.90" fill="#fff" stroke="#333" stroke-width="1.25"/>
<ellipse cx="370.4" cy="150.9" rx="3.10" ry="3.90" fill="#fff" stroke="#333" stroke-width="1.25"/>
<ellipse cx="352.1" cy="159.2" rx="3.10" ry="3.90" fill="#fff" stroke="#333" stroke-width="1.25"/>
<ellipse cx="388.5" cy="159.2" rx="3.10" ry="3.90" fill="#fff" stroke="#333" stroke-width="1.25"/>
<ellipse cx="361.3" cy="167.6" rx="3.10" ry="3.90" fill="#fff" stroke="#333" stroke-width="1.25"/>
<ellipse cx="370.4" cy="167.6" rx="3.10" ry="3.90" fill="#fff" stroke="#333" stroke-width="1.25"/>
<ellipse cx="379.3" cy="165.1" rx="3.10" ry="3.90" fill="#fff" stroke="#333" stroke-width="1.25"/>
<ellipse cx="361.3" cy="181.5" rx="3.10" ry="3.90" fill="#fff" stroke="#333" stroke-width="1.25"/>
<ellipse cx="388.5" cy="178.5" rx="3.10" ry="3.90" fill="#fff" stroke="#333" stroke-width="1.25"/>
<ellipse cx="370.4" cy="187.0" rx="3.10" ry="3.90" fill="#fff" stroke="#333" stroke-width="1.25"/>
<ellipse cx="379.3" cy="184.3" rx="3.10" ry="3.90" fill="#fff" stroke="#333" stroke-width="1.25"/>
<ellipse cx="466.9" cy="81.8" rx="3.30" ry="4.20" fill="#000"/>
<ellipse cx="448.9" cy="101.3" rx="3.30" ry="4.20" fill="#000"/>
<ellipse cx="457.9" cy="104.0" rx="3.30" ry="4.20" fill="#000"/>
<ellipse cx="466.9" cy="109.4" rx="3.30" ry="4.20" fill="#000"/>
<ellipse cx="475.9" cy="101.3" rx="3.30" ry="4.20" fill="#000"/>
<ellipse cx="457.9" cy="134.5" rx="3.30" ry="4.20" fill="#000"/>
<ellipse cx="466.9" cy="142.8" rx="3.30" ry="4.20" fill="#000"/>
<ellipse cx="475.9" cy="137.0" rx="3.30" ry="4.20" fill="#000"/>
<ellipse cx="484.9" cy="131.6" rx="3.30" ry="4.20" fill="#000"/>
<ellipse cx="457.9" cy="178.5" rx="3.30" ry="4.20" fill="#000"/>
<ellipse cx="466.9" cy="186.9" rx="3.30" ry="4.20" fill="#000"/>
<ellipse cx="466.9" cy="203.6" rx="3.30" ry="4.20" fill="#000"/>
<text class="b" x="346.4" y="253.5" font-size="18.5">bright</text>
<text class="b" x="454.0" y="253.5" font-size="18.5">dim</text>
<path d="M347.5 263.4H483.5" stroke="#333" stroke-width="1.4" fill="none"/>
<text class="b" x="395.0" y="285.3" font-size="18">TCR<tspan style="font-weight:normal" font-size="19">ζ</tspan></text>
<path d="M305.6 333.5V539.6H517.1" fill="none" stroke="#444" stroke-width="1.4"/>
<path d="M301.6 539.6H305.6" fill="none" stroke="#444" stroke-width="1.3"/>
<text class="b" x="301.3" y="340.0" font-size="16.5" text-anchor="end">75</text>
<text class="b" x="301.3" y="409.0" font-size="16.5" text-anchor="end">50</text>
<text class="b" x="301.3" y="477.4" font-size="16.5" text-anchor="end">25</text>
<text class="b" x="301.3" y="545.6" font-size="16.5" text-anchor="end">0</text>
<path d="M301.6 334.0H305.6M301.6 403.0H305.6M301.6 471.4H305.6M301.6 539.6H305.6" fill="none" stroke="#444" stroke-width="1.3"/>
<text transform="translate(277.30 531.50) rotate(-90) scale(1.010 1)" font-size="18.5" style="font-weight:bold" fill="#000">%</text>
<text transform="translate(277.30 509.69) rotate(-90) scale(1.010 1)" font-size="18.5" style="font-weight:bold" fill="#000">IFN</text>
<text transform="translate(277.30 479.58) rotate(-90) scale(1.111 1)" font-size="18.5" style="font-weight:normal" fill="#000">γ</text>
<text transform="translate(270.80 470.30) rotate(-90) scale(1.010 1)" font-size="12.5" style="font-weight:bold" fill="#000">+</text>
<text transform="translate(277.30 457.74) rotate(-90) scale(1.010 1)" font-size="18.5" style="font-weight:bold" fill="#000">T</text>
<text transform="translate(277.30 441.12) rotate(-90) scale(1.010 1)" font-size="18.5" style="font-weight:bold" fill="#000">cells</text>
<text transform="translate(277.30 394.36) rotate(-90) scale(1.010 1)" font-size="18.5" style="font-weight:bold" fill="#000">gated</text>
<text class="b" x="413.7" y="343.1" font-size="18.5" text-anchor="middle"><tspan font-style="italic">P</tspan> &lt; .001</text>
<path d="M371.9 357.8V351.7H469.5V357.8" fill="none" stroke="#333" stroke-width="1.3"/>
<path d="M339.0 476.8H404.7" stroke="#333" stroke-width="1.3" fill="none"/>
<path d="M437.1 430.4H502.3" stroke="#333" stroke-width="1.3" fill="none"/>
<ellipse cx="371.9" cy="413.8" rx="3.10" ry="3.90" fill="#fff" stroke="#333" stroke-width="1.25"/>
<ellipse cx="371.9" cy="452.6" rx="3.10" ry="3.90" fill="#fff" stroke="#333" stroke-width="1.25"/>
<ellipse cx="362.5" cy="466.6" rx="3.10" ry="3.90" fill="#fff" stroke="#333" stroke-width="1.25"/>
<ellipse cx="371.9" cy="466.6" rx="3.10" ry="3.90" fill="#fff" stroke="#333" stroke-width="1.25"/>
<ellipse cx="389.9" cy="471.8" rx="3.10" ry="3.90" fill="#fff" stroke="#333" stroke-width="1.25"/>
<ellipse cx="362.5" cy="477.2" rx="3.10" ry="3.90" fill="#fff" stroke="#333" stroke-width="1.25"/>
<ellipse cx="371.9" cy="480.3" rx="3.10" ry="3.90" fill="#fff" stroke="#333" stroke-width="1.25"/>
<ellipse cx="380.9" cy="477.2" rx="3.10" ry="3.90" fill="#fff" stroke="#333" stroke-width="1.25"/>
<ellipse cx="362.5" cy="496.7" rx="3.10" ry="3.90" fill="#fff" stroke="#333" stroke-width="1.25"/>
<ellipse cx="371.9" cy="499.3" rx="3.10" ry="3.90" fill="#fff" stroke="#333" stroke-width="1.25"/>
<ellipse cx="380.9" cy="493.8" rx="3.10" ry="3.90" fill="#fff" stroke="#333" stroke-width="1.25"/>
<ellipse cx="371.9" cy="529.8" rx="3.10" ry="3.90" fill="#fff" stroke="#333" stroke-width="1.25"/>
<ellipse cx="469.5" cy="375.1" rx="3.30" ry="4.20" fill="#000"/>
<ellipse cx="451.3" cy="380.8" rx="3.30" ry="4.20" fill="#000"/>
<ellipse cx="478.6" cy="383.2" rx="3.30" ry="4.20" fill="#000"/>
<ellipse cx="460.5" cy="391.5" rx="3.30" ry="4.20" fill="#000"/>
<ellipse cx="469.5" cy="391.5" rx="3.30" ry="4.20" fill="#000"/>
<ellipse cx="469.5" cy="427.3" rx="3.30" ry="4.20" fill="#000"/>
<ellipse cx="460.5" cy="443.8" rx="3.30" ry="4.20" fill="#000"/>
<ellipse cx="469.5" cy="446.8" rx="3.30" ry="4.20" fill="#000"/>
<ellipse cx="478.6" cy="452.1" rx="3.30" ry="4.20" fill="#000"/>
<ellipse cx="469.5" cy="460.8" rx="3.30" ry="4.20" fill="#000"/>
<ellipse cx="469.5" cy="496.6" rx="3.30" ry="4.20" fill="#000"/>
<ellipse cx="469.5" cy="515.6" rx="3.30" ry="4.20" fill="#000"/>
<text class="b" x="346.4" y="559.2" font-size="18.5">bright</text>
<text class="b" x="459.8" y="559.2" font-size="18.5">dim</text>
<path d="M350.0 569.1H486.4" stroke="#333" stroke-width="1.4" fill="none"/>
<text class="b" x="395.8" y="591.4" font-size="18">TCR<tspan style="font-weight:normal" font-size="19">ζ</tspan></text>
<path d="M305.6 632.0V835.6H518.8" fill="none" stroke="#444" stroke-width="1.4"/>
<path d="M301.6 835.6H305.6" fill="none" stroke="#444" stroke-width="1.3"/>
<text class="b" x="301.3" y="668.3" font-size="16.5" text-anchor="end">40</text>
<text class="b" x="301.3" y="711.7" font-size="16.5" text-anchor="end">30</text>
<text class="b" x="301.3" y="755.0" font-size="16.5" text-anchor="end">20</text>
<text class="b" x="301.3" y="797.9" font-size="16.5" text-anchor="end">10</text>
<text class="b" x="301.3" y="841.6" font-size="16.5" text-anchor="end">0</text>
<path d="M301.6 662.3H305.6M301.6 705.7H305.6M301.6 749.0H305.6M301.6 791.9H305.6M301.6 835.6H305.6" fill="none" stroke="#444" stroke-width="1.3"/>
<text transform="translate(276.40 828.50) rotate(-90) scale(1.020 1)" font-size="18.5" style="font-weight:bold" fill="#000">%</text>
<text transform="translate(276.40 806.49) rotate(-90) scale(1.020 1)" font-size="18.5" style="font-weight:bold" fill="#000">IL-10</text>
<text transform="translate(269.90 762.46) rotate(-90) scale(1.020 1)" font-size="12.5" style="font-weight:bold" fill="#000">+</text>
<text transform="translate(276.40 749.77) rotate(-90) scale(1.020 1)" font-size="18.5" style="font-weight:bold" fill="#000">T</text>
<text transform="translate(276.40 733.01) rotate(-90) scale(1.020 1)" font-size="18.5" style="font-weight:bold" fill="#000">cells</text>
<text transform="translate(276.40 685.81) rotate(-90) scale(1.020 1)" font-size="18.5" style="font-weight:bold" fill="#000">gated</text>
<text class="b" x="410.8" y="637.4" font-size="16.0" text-anchor="middle"><tspan font-style="italic">P</tspan> &lt; .001</text>
<path d="M372.0 649.5V645.0H469.6V649.5" fill="none" stroke="#333" stroke-width="1.3"/>
<path d="M337.8 732.5H404.0" stroke="#333" stroke-width="1.3" fill="none"/>
<path d="M436.2 800.3H502.3" stroke="#333" stroke-width="1.3" fill="none"/>
<ellipse cx="371.2" cy="662.8" rx="3.00" ry="3.30" fill="#fff" stroke="#333" stroke-width="1.25"/>
<ellipse cx="371.2" cy="684.5" rx="3.00" ry="3.30" fill="#fff" stroke="#333" stroke-width="1.25"/>
<ellipse cx="380.2" cy="692.9" rx="3.00" ry="3.30" fill="#fff" stroke="#333" stroke-width="1.25"/>
<ellipse cx="371.2" cy="701.4" rx="3.00" ry="3.30" fill="#fff" stroke="#333" stroke-width="1.25"/>
<ellipse cx="371.2" cy="732.1" rx="3.00" ry="3.30" fill="#fff" stroke="#333" stroke-width="1.25"/>
<ellipse cx="371.2" cy="749.4" rx="3.00" ry="3.30" fill="#fff" stroke="#333" stroke-width="1.25"/>
<ellipse cx="380.2" cy="749.4" rx="3.00" ry="3.30" fill="#fff" stroke="#333" stroke-width="1.25"/>
<ellipse cx="361.8" cy="757.9" rx="3.00" ry="3.30" fill="#fff" stroke="#333" stroke-width="1.25"/>
<ellipse cx="371.2" cy="766.6" rx="3.00" ry="3.30" fill="#fff" stroke="#333" stroke-width="1.25"/>
<ellipse cx="380.2" cy="779.5" rx="3.00" ry="3.30" fill="#fff" stroke="#333" stroke-width="1.25"/>
<ellipse cx="371.2" cy="788.0" rx="3.00" ry="3.30" fill="#fff" stroke="#333" stroke-width="1.25"/>
<ellipse cx="469.6" cy="779.4" rx="3.20" ry="3.40" fill="#000"/>
<ellipse cx="460.3" cy="783.7" rx="3.20" ry="3.40" fill="#000"/>
<ellipse cx="478.8" cy="783.7" rx="3.20" ry="3.40" fill="#000"/>
<ellipse cx="469.6" cy="792.4" rx="3.20" ry="3.40" fill="#000"/>
<ellipse cx="451.1" cy="801.0" rx="3.20" ry="3.40" fill="#000"/>
<ellipse cx="460.3" cy="805.5" rx="3.20" ry="3.40" fill="#000"/>
<ellipse cx="469.6" cy="805.5" rx="3.20" ry="3.40" fill="#000"/>
<ellipse cx="478.8" cy="805.5" rx="3.20" ry="3.40" fill="#000"/>
<ellipse cx="460.3" cy="814.2" rx="3.20" ry="3.40" fill="#000"/>
<ellipse cx="469.6" cy="818.5" rx="3.20" ry="3.40" fill="#000"/>
<ellipse cx="478.8" cy="818.5" rx="3.20" ry="3.40" fill="#000"/>
<text class="b" x="350.1" y="856.2" font-size="18.5">bright</text>
<text class="b" x="456.8" y="856.2" font-size="18.5">dim</text>
<path d="M350.0 866.0H486.4" stroke="#333" stroke-width="1.4" fill="none"/>
<text class="b" x="400.2" y="886.1" font-size="18">TCR<tspan style="font-weight:normal" font-size="19">ζ</tspan></text>
</svg></body></html>
